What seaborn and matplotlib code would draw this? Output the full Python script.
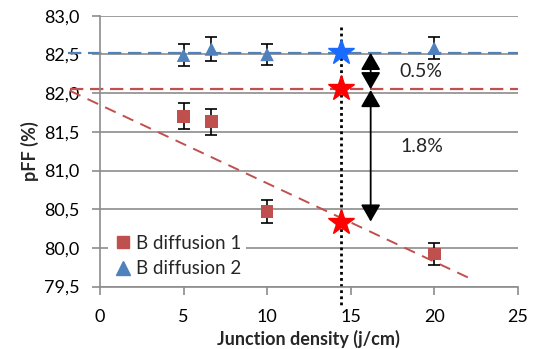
import matplotlib
matplotlib.use("Agg")
import matplotlib.pyplot as plt
from matplotlib.lines import Line2D
from matplotlib.ticker import FuncFormatter
import seaborn as sns
import pandas as pd

# junction density (j/cm) and pFF (%)
x_b1 = [5, 6.67, 10, 20]
pff_b1 = [81.70, 81.63, 80.47, 79.92]
err_b1 = [0.17, 0.17, 0.15, 0.14]
x_b2 = [5, 6.67, 10, 20]
pff_b2 = [82.49, 82.57, 82.50, 82.58]
err_b2 = [0.14, 0.15, 0.14, 0.14]

# extrapolated values at the vertical marker
x_star = 14.45
star_b2 = 82.53
star_b1_flat = 82.07
star_b1_fit = 80.34
level_b2 = 82.52
level_b1 = 82.05
fit_x = [-1.8, 22.2]
fit_y = [82.03, 79.60]

RED = "#C0504D"
BLUE = "#4F81BD"
GRID = "#8C8C8C"

sns.set_style("white")
plt.rcParams["font.family"] = ["Lato", "DejaVu Sans"]

df1 = pd.DataFrame({"x": x_b1, "pff": pff_b1})
df2 = pd.DataFrame({"x": x_b2, "pff": pff_b2})

fig = plt.figure(figsize=(5.33, 3.49), dpi=100)
ax = fig.add_axes([0.1876, 0.1788, 0.7837, 0.7762])

ax.set_xlim(0, 25)
ax.set_ylim(79.5, 83.0)
ax.set_yticks([79.5, 80.0, 80.5, 81.0, 81.5, 82.0, 82.5, 83.0])
ax.set_xticks([0, 5, 10, 15, 20, 25])
ax.yaxis.set_major_formatter(FuncFormatter(lambda v, p: f"{v:.1f}".replace(".", ",")))
ax.grid(axis="y", color=GRID, lw=1.2)
ax.set_axisbelow(True)
for s in ["top", "right"]:
    ax.spines[s].set_visible(False)
for s in ["left", "bottom"]:
    ax.spines[s].set_color(GRID)
    ax.spines[s].set_linewidth(1.2)
ax.tick_params(axis="both", length=6, width=1.2, color=GRID, direction="out",
               labelsize=13, labelcolor="black", left=True, bottom=True)
ax.tick_params(axis="x", pad=10)
ax.tick_params(axis="y", pad=9)

# reference lines
ax.plot([-1.9, 25], [level_b2, level_b2], color=BLUE, lw=1.6, dashes=(6, 3), clip_on=False, zorder=2)
ax.plot([-1.8, 25], [level_b1, level_b1], color=RED, lw=1.6, dashes=(6, 3), clip_on=False, zorder=2)
ax.plot(fit_x, fit_y, color=RED, lw=1.4, dashes=(6, 4), clip_on=False, zorder=2)
ax.plot([x_star, x_star], [82.85, 79.25], color="black", lw=2, ls=(0, (1, 1.2)), clip_on=False, zorder=2)

# error bars then markers
ax.errorbar(x_b1, pff_b1, yerr=err_b1, fmt="none", ecolor="black", elinewidth=1.2, capsize=4.5, capthick=1.2, zorder=3)
ax.errorbar(x_b2, pff_b2, yerr=err_b2, fmt="none", ecolor="black", elinewidth=1.2, capsize=4.5, capthick=1.2, zorder=3)
sns.scatterplot(data=df1, x="x", y="pff", marker="s", s=85, color=RED, edgecolor="none", ax=ax, zorder=4)
sns.scatterplot(data=df2, x="x", y="pff", marker="^", s=95, color=BLUE, edgecolor="none", ax=ax, zorder=4)

# stars
ax.plot([x_star], [star_b2], marker="*", ms=19, color="#1A6BFF", mec="#1A6BFF", ls="none", zorder=5)
ax.plot([x_star, x_star], [star_b1_flat, star_b1_fit], marker="*", ms=19, color="red", mec="red", ls="none", zorder=5)

# arrows
arrow_x = 16.2
ax.annotate("", xy=(arrow_x, level_b2), xytext=(arrow_x, level_b1),
            arrowprops=dict(arrowstyle="<|-|>,head_length=0.52,head_width=0.3", mutation_scale=20,
                            color="black", lw=1.3, shrinkA=0, shrinkB=0), zorder=6)
ax.annotate("", xy=(arrow_x, star_b1_fit), xytext=(arrow_x, level_b1 - 0.01),
            arrowprops=dict(arrowstyle="<|-|>,head_length=0.52,head_width=0.3", mutation_scale=20,
                            color="black", lw=1.3, shrinkA=0, shrinkB=0), zorder=6)
ax.text(19.2, 82.28, "0.5%", fontsize=14, ha="center", va="center")
ax.text(19.25, 81.31, "1.8%", fontsize=14, ha="center", va="center")

ax.set_xlabel("Junction density (j/cm)", fontsize=13, fontweight="bold")
ax.set_ylabel("pFF (%)", fontsize=13, fontweight="bold")
ax.xaxis.set_label_coords(0.5, -0.16)
ax.yaxis.set_label_coords(-0.145, 0.5)

handles = [Line2D([], [], marker="s", color=RED, ls="none", ms=9),
           Line2D([], [], marker="^", color=BLUE, ls="none", ms=10)]
leg = ax.legend(handles, ["B diffusion 1", "B diffusion 2"], loc="lower left",
                bbox_to_anchor=(0.02, 0.02), frameon=True, fontsize=13.5,
                handletextpad=0.1, handlelength=1.2, borderpad=0.2, labelspacing=0.45,
                borderaxespad=0)
leg.get_frame().set_facecolor("white")
leg.get_frame().set_edgecolor("none")
leg.get_frame().set_alpha(1)

fig.savefig("out.png", dpi=100)
